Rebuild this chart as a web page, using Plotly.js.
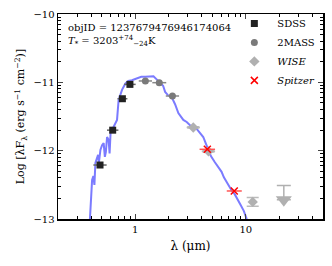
<!DOCTYPE html>
<html><head><meta charset="utf-8">
<script src="https://cdn.plot.ly/plotly-3.0.1.min.js"></script>
<style>html,body{margin:0;padding:0;background:#fff;}#c{width:332px;height:266px;}</style>
</head><body><div id="c"></div>
<script>
// Model SED (wavelength in micron, log lambda F_lambda)
const modelWave = [0.389,0.397,0.407,0.418,0.427,0.436,0.452,0.461,0.469,0.484,0.501,0.518,0.531,0.542,0.556,0.574,0.586,0.598,0.638,0.684,0.707,0.759,0.813,0.865,0.933,1.035,1.133,1.230,1.365,1.462,1.546,1.679,1.787,1.864,1.983,2.142,2.293,2.455,2.595,2.723,2.922,3.129,3.332,3.597,3.853,4.125,4.365,4.574,4.837,5.256,5.594,6.044,6.339,6.702,7.030,7.432,7.962,8.531,9.016,9.594,10.21];
const modelFlux = [-13.00,-12.72,-12.43,-12.37,-12.50,-12.18,-12.11,-12.06,-12.17,-11.99,-11.92,-11.89,-12.09,-12.02,-11.80,-11.84,-12.04,-11.74,-11.65,-11.55,-11.26,-11.11,-11.02,-10.98,-10.97,-10.94,-10.92,-10.92,-10.92,-10.91,-10.95,-11.01,-11.05,-11.14,-11.19,-11.22,-11.32,-11.45,-11.51,-11.55,-11.58,-11.63,-11.67,-11.68,-11.74,-11.80,-11.90,-11.99,-12.08,-12.17,-12.23,-12.31,-12.39,-12.46,-12.50,-12.58,-12.64,-12.72,-12.80,-12.88,-13.00];

// Photometry
const sdssWave = [0.48,0.625,0.765,0.895];
const sdssFlux = [-12.21,-11.70,-11.24,-11.03];
const sdssXPlus = [0.071,0.079,0.084,0.114];
const sdssXMinus = [0.062,0.070,0.075,0.101];

const tmassWave = [1.235,1.65,2.17];
const tmassFlux = [-10.98,-11.005,-11.20];
const tmassXPlus = [0.183,0.258,0.322];
const tmassXMinus = [0.159,0.223,0.280];

const wiseWave = [3.35,4.6,11.56];
const wiseFlux = [-11.66,-12.01,-12.75];
const wiseXPlus = [0.496,0.68,0];
const wiseXMinus = [0.432,0.60,0];
const wiseYErr = [0.01,0.01,0.065];

const wiseLimWave = [22.1];
const wiseLimFlux = [-12.72];
const wiseLimUp = [0.21];

const spitzerWave = [4.49,7.87];
const spitzerFlux = [-11.98,-12.59];
const spitzerXPlus = [0.785,1.334];
const spitzerXMinus = [0.669,1.140];

const serif = "DejaVu Serif";

const traces = [
  {x: modelWave, y: modelFlux, mode:'lines', line:{color:'rgba(100,100,255,0.85)', width:2}, showlegend:false, hoverinfo:'skip'},
  {x: sdssWave, y: sdssFlux, mode:'markers', name:'SDSS',
   marker:{symbol:'square', size:7, color:'#222'},
   error_x:{type:'data', symmetric:false, array:sdssXPlus, arrayminus:sdssXMinus, color:'#666', thickness:1.5, width:0}},
  {x: tmassWave, y: tmassFlux, mode:'markers', name:'2MASS',
   marker:{symbol:'circle', size:7, color:'#7a7a7a'},
   error_x:{type:'data', symmetric:false, array:tmassXPlus, arrayminus:tmassXMinus, color:'#888', thickness:1.5, width:0}},
  {x: wiseWave, y: wiseFlux, mode:'markers', name:'<i>WISE</i>',
   marker:{symbol:'diamond', size:8, color:'#b0b0b0'},
   error_x:{type:'data', symmetric:false, array:wiseXPlus, arrayminus:wiseXMinus, color:'#bbb', thickness:1.5, width:0},
   error_y:{type:'data', array:wiseYErr, color:'#bbb', thickness:1.5, width:6}},
  {x: wiseLimWave, y: wiseLimFlux, mode:'markers', showlegend:false,
   marker:{symbol:'triangle-down', size:14, color:'#b0b0b0'},
   error_y:{type:'data', symmetric:false, array:wiseLimUp, arrayminus:[0], color:'#b0b0b0', thickness:1.5, width:7}},
  {x: spitzerWave, y: spitzerFlux, mode:'markers', name:'<i>Spitzer</i>',
   marker:{symbol:'x-thin', size:7, color:'red', line:{color:'red', width:1.5}},
   error_x:{type:'data', symmetric:false, array:spitzerXPlus, arrayminus:spitzerXMinus, color:'#ff5555', thickness:1.5, width:0}}
];

// minor tick positions (axis styling)
const xMinor = [];
[0.1,1,10].forEach(d=>{for(let k=2;k<=9;k++){const v=k*d; if(v>0.2&&v<50) xMinor.push(v);}});
const yMinor = [];
[-10,-11,-12].forEach(n=>{for(let k=2;k<=9;k++){yMinor.push(n - (1-Math.log10(k)));}});

const layout = {
  width:332, height:266,
  margin:{l:58, r:9, t:14, b:47},
  paper_bgcolor:'#fff', plot_bgcolor:'#fff',
  font:{family:serif, size:10, color:'#000'},
  xaxis:{type:'log', range:[Math.log10(0.2), Math.log10(50)],
    tickvals:[1,10], ticktext:['1','10'], ticks:'inside', ticklen:5, tickwidth:1,
    showline:true, linecolor:'#000', linewidth:1.5, mirror:'allticks', showgrid:false, zeroline:false,
    minor:{tickvals:xMinor, ticks:'inside', ticklen:3, tickcolor:'#000', showgrid:false},
    title:{text:'λ (μm)', font:{family:serif, size:12}, standoff:8},
    tickfont:{family:serif, size:10}},
  yaxis:{range:[-13,-10], tickvals:[-10,-11,-12,-13], ticktext:['−10','−11','−12','−13'],
    ticks:'inside', ticklen:5, tickwidth:1,
    showline:true, linecolor:'#000', linewidth:1.5, mirror:'allticks', showgrid:false, zeroline:false,
    minor:{tickvals:yMinor, ticks:'inside', ticklen:3, tickcolor:'#000', showgrid:false},
    title:{text:'Log [λF<sub>λ</sub> (erg s<sup>−1</sup> cm<sup>−2</sup>)]', font:{family:serif, size:11}, standoff:6},
    tickfont:{family:serif, size:10}},
  legend:{x:0.99, y:1.025, xanchor:'right', yanchor:'top', bgcolor:'rgba(0,0,0,0)',
    font:{family:serif, size:10}, itemwidth:36, tracegroupgap:0},
  annotations:[
    {xref:'paper', yref:'paper', x:0.03, y:0.97, xanchor:'left', yanchor:'top', showarrow:false,
     align:'left', font:{family:serif, size:10},
     text:'objID = 1237679476946174064<br><i>T</i><sub>*</sub> = 3203<sup>+74</sup><sub>−24</sub>K'}
  ],
  showlegend:true
};

Plotly.newPlot('c', traces, layout, {staticPlot:true, displayModeBar:false});
</script>
</body></html>
